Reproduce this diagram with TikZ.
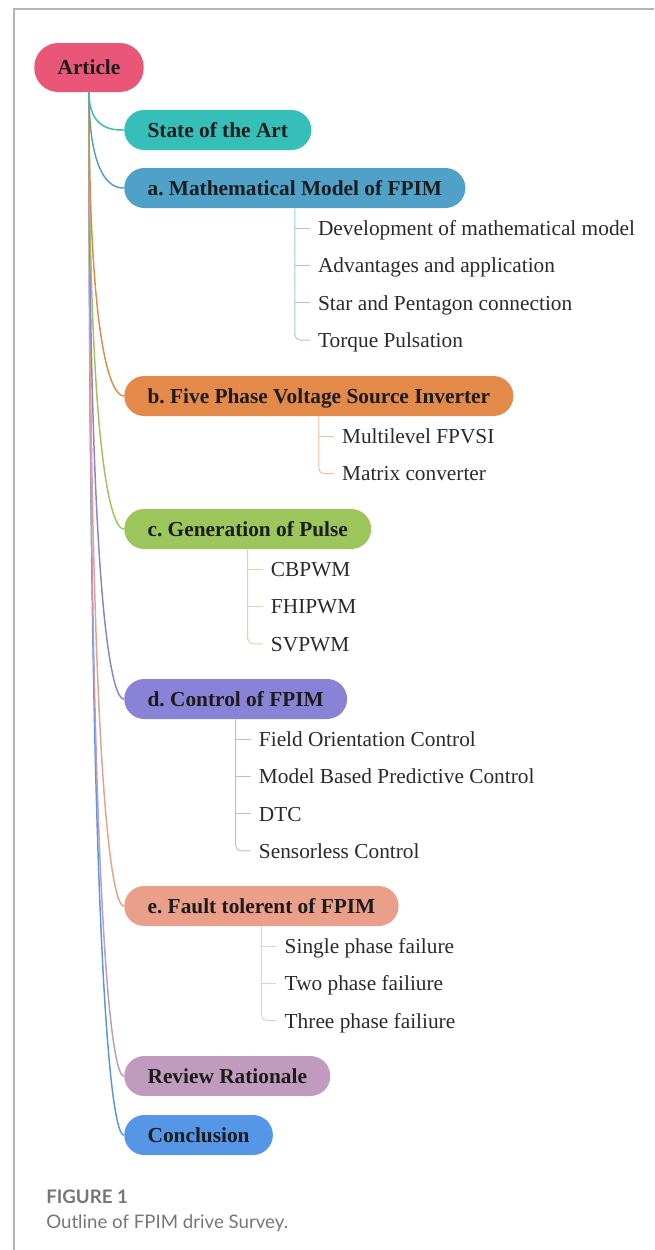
\documentclass[tikz,border=0pt]{standalone}
\usepackage{fontspec}
\setmainfont{Liberation Serif}
\newfontfamily\captionfont{Lato}
\usepackage{xcolor}
\definecolor{mapInk}{HTML}{1C1C1C}
\definecolor{leafInk}{HTML}{2A2A2A}
\definecolor{capGray}{HTML}{767676}
\definecolor{frameGray}{HTML}{B4B4B4}
\definecolor{mapPink}{HTML}{EA5677}
\definecolor{mapTeal}{HTML}{36BFB8}
\definecolor{mapBlue}{HTML}{4FA1C8}
\definecolor{mapOrange}{HTML}{E3894A}
\definecolor{mapGreen}{HTML}{9CC65B}
\definecolor{mapPurple}{HTML}{8A82D6}
\definecolor{mapSalmon}{HTML}{E99F89}
\definecolor{mapMauve}{HTML}{C09BBD}
\definecolor{mapSky}{HTML}{5597E6}
\usetikzlibrary{positioning, calc}
\frenchspacing

\begin{document}
\begin{tikzpicture}[
  x=0.75pt, y=-0.75pt,
  topic/.style = {rectangle, rounded corners=15pt, minimum height=30pt,
                  inner xsep=17.5pt, inner ysep=0pt, anchor=west,
                  font=\fontsize{16}{19}\selectfont\bfseries, text=mapInk,
                  text height=11pt, text depth=0pt},
  root/.style  = {topic, anchor=center, minimum height=36.75pt,
                  rounded corners=18pt},
  leaf/.style  = {anchor=west, inner xsep=6pt, inner ysep=0pt,
                  font=\fontsize{16}{19}\selectfont, text=leafInk,
                  text height=11pt, text depth=0pt},
  link/.style  = {line width=1.1pt, draw=#1},
  twig/.style  = {line width=0.75pt, draw=#1!55, rounded corners=4pt},
  frame/.style = {line width=1.2pt, draw=frameGray},
  capfig/.style = {anchor=base west, inner sep=0pt, text=capGray,
                   font=\captionfont\bfseries\fontsize{14}{17}\selectfont},
  captxt/.style = {anchor=base west, inner sep=0pt, text=capGray,
                   font=\captionfont\fontsize{14}{17}\selectfont},
]
\useasboundingbox (0,0) rectangle (654,1250);

% page frame
\draw[frame] (14,1250) -- (14,9) -- (654,9);

% root
\node[root, fill=mapPink] (article) at (89,67.5) {Article};

% main topics
\node[topic, fill=mapTeal]   (art)    at (124,130)  {State of the Art};
\node[topic, fill=mapBlue]   (model)  at (124,188)  {a. Mathematical Model of FPIM};
\node[topic, fill=mapOrange] (vsi)    at (124,396)  {b. Five Phase Voltage Source Inverter};
\node[topic, fill=mapGreen]  (pulse)  at (124,529)  {c. Generation of Pulse};
\node[topic, fill=mapPurple] (ctrl)   at (124,699)  {d. Control of FPIM};
\node[topic, fill=mapSalmon] (fault)  at (124,906)  {e. Fault tolerent of FPIM};
\node[topic, fill=mapMauve]  (review) at (124,1076) {Review Rationale};
\node[topic, fill=mapSky]    (concl)  at (124,1135) {Conclusion};

% subtopics
\node[leaf] (a1) at ($(model.south)+(15,20)$) {Development of mathematical model};
\node[leaf] (a2) at ($(a1.west)+(0,37.3)$) {Advantages and application};
\node[leaf] (a3) at ($(a2.west)+(0,37.3)$) {Star and Pentagon connection};
\node[leaf] (a4) at ($(a3.west)+(0,37.3)$) {Torque Pulsation};

\node[leaf] (b1) at ($(vsi.south)+(15,20)$) {Multilevel FPVSI};
\node[leaf] (b2) at ($(b1.west)+(0,37.3)$) {Matrix converter};

\node[leaf] (c1) at ($(pulse.south)+(15,20)$) {CBPWM};
\node[leaf] (c2) at ($(c1.west)+(0,37.3)$) {FHIPWM};
\node[leaf] (c3) at ($(c2.west)+(0,37.3)$) {SVPWM};

\node[leaf] (d1) at ($(ctrl.south)+(15,20)$) {Field Orientation Control};
\node[leaf] (d2) at ($(d1.west)+(0,37.2)$) {Model Based Predictive Control};
\node[leaf] (d3) at ($(d2.west)+(0,37.2)$) {DTC};
\node[leaf] (d4) at ($(d3.west)+(0,37.2)$) {Sensorless Control};

\node[leaf] (e1) at ($(fault.south)+(15,20)$) {Single phase failure};
\node[leaf] (e2) at ($(e1.west)+(0,37.2)$) {Two phase failiure};
\node[leaf] (e3) at ($(e2.west)+(0,37.2)$) {Three phase failiure};

% caption
\node[capfig] (fig) at (46,1203) {FIGURE 1};
\node[captxt] (cap) at (46,1228) {Outline of FPIM drive Survey.};

% links from root
\draw[link=mapSky]    (article.south) .. controls (article.south |- concl.west)  and ([xshift=-3pt]concl.west)  .. (concl.west);
\draw[link=mapMauve]  (article.south) .. controls (article.south |- review.west) and ([xshift=-3pt]review.west) .. (review.west);
\draw[link=mapSalmon] (article.south) .. controls (article.south |- fault.west)  and ([xshift=-3pt]fault.west)  .. (fault.west);
\draw[link=mapPurple] (article.south) .. controls (article.south |- ctrl.west)   and ([xshift=-3pt]ctrl.west)   .. (ctrl.west);
\draw[link=mapGreen]  (article.south) .. controls (article.south |- pulse.west)  and ([xshift=-3pt]pulse.west)  .. (pulse.west);
\draw[link=mapOrange] (article.south) .. controls (article.south |- vsi.west)    and ([xshift=-3pt]vsi.west)    .. (vsi.west);
\draw[link=mapBlue]   (article.south) .. controls (article.south |- model.west)  and ([xshift=-5pt]model.west)  .. (model.west);
\draw[link=mapTeal]   (article.south) .. controls (article.south |- art.west)    and ([xshift=-8pt]art.west)    .. (art.west);

% branches to subtopics
\draw[twig=mapBlue] (model.south) |- (a4.west);
\draw[twig=mapBlue] (model.south |- a1.west) -- (a1.west);
\draw[twig=mapBlue] (model.south |- a2.west) -- (a2.west);
\draw[twig=mapBlue] (model.south |- a3.west) -- (a3.west);

\draw[twig=mapOrange] (vsi.south) |- (b2.west);
\draw[twig=mapOrange] (vsi.south |- b1.west) -- (b1.west);

\draw[twig=mapGreen] (pulse.south) |- (c3.west);
\draw[twig=mapGreen] (pulse.south |- c1.west) -- (c1.west);
\draw[twig=mapGreen] (pulse.south |- c2.west) -- (c2.west);

\draw[twig=mapPurple] (ctrl.south) |- (d4.west);
\draw[twig=mapPurple] (ctrl.south |- d1.west) -- (d1.west);
\draw[twig=mapPurple] (ctrl.south |- d2.west) -- (d2.west);
\draw[twig=mapPurple] (ctrl.south |- d3.west) -- (d3.west);

\draw[twig=mapSalmon] (fault.south) |- (e3.west);
\draw[twig=mapSalmon] (fault.south |- e1.west) -- (e1.west);
\draw[twig=mapSalmon] (fault.south |- e2.west) -- (e2.west);

\end{tikzpicture}
\end{document}
